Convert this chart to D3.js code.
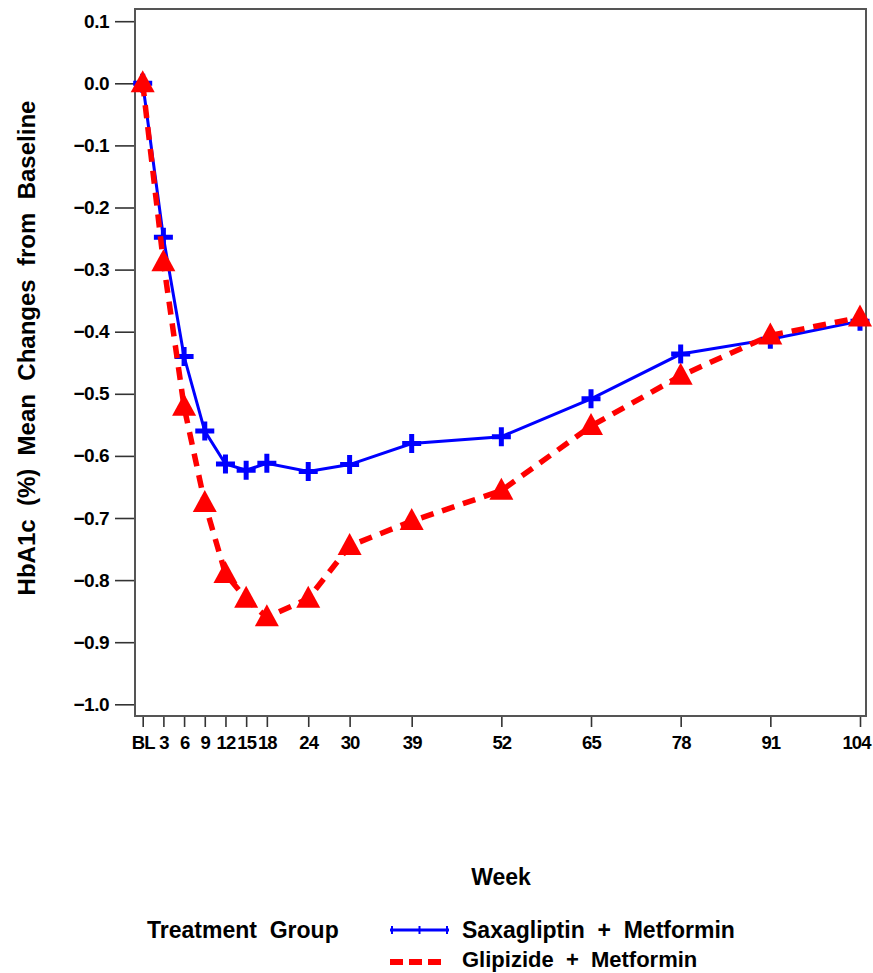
<!DOCTYPE html>
<html><head><meta charset="utf-8">
<script src="https://cdn.jsdelivr.net/npm/d3@7"></script>
<style>
body{margin:0;background:#fff;}
svg text{font-family:"Liberation Sans",Arial,sans-serif;font-weight:bold;fill:#000;}
</style></head>
<body>
<svg id="c" width="873" height="973"></svg>
<script>
const weeks = [0,3,6,9,12,15,18,24,30,39,52,65,78,91,104];
const weekLabels = ["BL","3","6","9","12","15","18","24","30","39","52","65","78","91","104"];
const saxa = [0.000,-0.248,-0.440,-0.560,-0.613,-0.623,-0.612,-0.625,-0.614,-0.580,-0.569,-0.508,-0.436,-0.412,-0.383];
const glip = [0.000,-0.288,-0.521,-0.676,-0.790,-0.830,-0.860,-0.830,-0.745,-0.705,-0.656,-0.552,-0.471,-0.406,-0.377];
const yTicks = [0.1,0,-0.1,-0.2,-0.3,-0.4,-0.5,-0.6,-0.7,-0.8,-0.9,-1.0];
const seriesNames = ["Saxagliptin  +  Metformin","Glipizide  +  Metformin"];

const svg = d3.select("#c");
const L=135,R=866,T=9,B=716;
const x = d3.scaleLinear().domain([0,104]).range([142.7,860]);
const y = d3.scaleLinear().domain([0,-1]).range([83.3,704.3]);

// y axis
const fmt = d3.format(".1f");
const ya = svg.append("g").attr("transform",`translate(${L},0)`)
  .call(d3.axisLeft(y).tickValues(yTicks).tickFormat(d=>fmt(d).replace("-","\u2013")).tickSize(20).tickPadding(6));
ya.select(".domain").remove();
ya.selectAll("line").attr("stroke","#333").attr("stroke-width",1.6);
ya.selectAll("text").style("font-size","19px").attr("letter-spacing","-0.5");

// x axis
const xa = svg.append("g").attr("transform",`translate(0,${B})`)
  .call(d3.axisBottom(x).tickValues(weeks).tickFormat((d,i)=>weekLabels[i]).tickSize(11).tickPadding(9));
xa.select(".domain").remove();
xa.selectAll("line").attr("stroke","#333").attr("stroke-width",1.6);
xa.selectAll("text").style("font-size","18.5px").attr("letter-spacing","-0.9");
xa.selectAll("text").filter(d=>d===104).attr("dx","-4");

// frame
svg.append("rect").attr("x",L).attr("y",T).attr("width",R-L).attr("height",B-T)
  .attr("fill","none").attr("stroke","#555").attr("stroke-width",2);

const line = d3.line().x(d=>x(d[0])).y(d=>y(d[1]));
const sData = weeks.map((w,i)=>[w,saxa[i]]);
const gData = weeks.map((w,i)=>[w,glip[i]]);

// saxagliptin
svg.append("path").datum(sData).attr("d",line).attr("fill","none")
  .attr("stroke","#0000ff").attr("stroke-width",3);
svg.append("g").selectAll("path").data(sData).join("path")
  .attr("transform",d=>`translate(${x(d[0])},${y(d[1])})`)
  .attr("d","M-9.5,0H9.5M0,-9.5V9.5").attr("stroke","#0000ff").attr("stroke-width",5).attr("fill","none");

// glipizide
svg.append("path").datum(gData).attr("d",line).attr("fill","none")
  .attr("stroke","#ff0000").attr("stroke-width",5.5).attr("stroke-dasharray","13,9");
svg.append("g").selectAll("path").data(gData).join("path")
  .attr("transform",d=>`translate(${x(d[0])},${y(d[1])})`)
  .attr("d","M0,-13L12,9L-12,9Z").attr("fill","#ff0000");

// titles
svg.append("text").attr("transform","translate(35,348) rotate(-90)").attr("text-anchor","middle")
  .style("font-size","24px").style("white-space","pre")
  .text("HbA1c  (%)  Mean  Changes  from  Baseline");
svg.append("text").attr("x",501).attr("y",885).attr("text-anchor","middle")
  .style("font-size","23px").text("Week");

// legend
svg.append("text").attr("x",147).attr("y",938).style("font-size","23px").style("white-space","pre")
  .text("Treatment  Group");
svg.append("line").attr("x1",390).attr("x2",449).attr("y1",930).attr("y2",930)
  .attr("stroke","#0000ff").attr("stroke-width",3);
svg.append("g").selectAll("line").data([392,419.5,447]).join("line")
  .attr("x1",d=>d).attr("x2",d=>d).attr("y1",926).attr("y2",934)
  .attr("stroke","#0000ff").attr("stroke-width",2);
svg.append("line").attr("x1",390).attr("x2",446).attr("y1",962).attr("y2",962)
  .attr("stroke","#ff0000").attr("stroke-width",6).attr("stroke-dasharray","13,6");
svg.append("text").attr("x",462).attr("y",938).style("font-size","23px").style("white-space","pre")
  .text(seriesNames[0]);
svg.append("text").attr("x",462).attr("y",967).style("font-size","22px").style("white-space","pre")
  .text(seriesNames[1]);
</script>
</body></html>
